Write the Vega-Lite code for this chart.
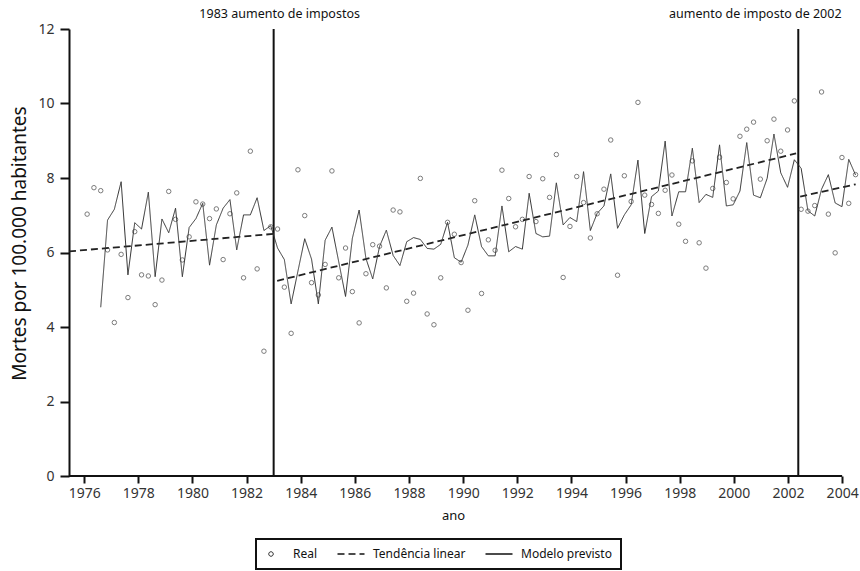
{
  "$schema": "https://vega.github.io/schema/vega-lite/v6.json",
  "width": 791,
  "height": 447,
  "autosize": {"type": "none"},
  "padding": {"left": 69, "top": 29, "right": 0, "bottom": 95},
  "background": "white",
  "config": {"font": "Noto Sans", "view": {"stroke": null}, "axis": {"grid": false}},
  "datasets": {
    "real": [
      {"t":1976.110,"v":7.03},{"t":1976.361,"v":7.74},{"t":1976.612,"v":7.66},{"t":1976.864,"v":6.07},
      {"t":1977.115,"v":4.12},{"t":1977.366,"v":5.95},{"t":1977.617,"v":4.79},{"t":1977.868,"v":6.56},
      {"t":1978.120,"v":5.40},{"t":1978.371,"v":5.37},{"t":1978.622,"v":4.60},{"t":1978.873,"v":5.26},
      {"t":1979.124,"v":7.64},{"t":1979.376,"v":6.89},{"t":1979.627,"v":5.80},{"t":1979.878,"v":6.42},
      {"t":1980.129,"v":7.36},{"t":1980.380,"v":7.30},{"t":1980.632,"v":6.91},{"t":1980.883,"v":7.17},
      {"t":1981.134,"v":5.81},{"t":1981.385,"v":7.04},{"t":1981.636,"v":7.60},{"t":1981.888,"v":5.32},
      {"t":1982.139,"v":8.72},{"t":1982.390,"v":5.56},{"t":1982.641,"v":3.35},{"t":1982.892,"v":6.69},
      {"t":1983.144,"v":6.63},{"t":1983.395,"v":5.07},{"t":1983.646,"v":3.83},{"t":1983.897,"v":8.22},
      {"t":1984.148,"v":6.99},{"t":1984.400,"v":5.19},{"t":1984.651,"v":4.86},{"t":1984.902,"v":5.68},
      {"t":1985.153,"v":8.19},{"t":1985.404,"v":5.32},{"t":1985.656,"v":6.12},{"t":1985.907,"v":4.95},
      {"t":1986.158,"v":4.11},{"t":1986.409,"v":5.43},{"t":1986.660,"v":6.21},{"t":1986.912,"v":6.17},
      {"t":1987.163,"v":5.05},{"t":1987.414,"v":7.14},{"t":1987.665,"v":7.09},{"t":1987.916,"v":4.69},
      {"t":1988.168,"v":4.91},{"t":1988.419,"v":7.99},{"t":1988.670,"v":4.35},{"t":1988.921,"v":4.06},
      {"t":1989.172,"v":5.32},{"t":1989.424,"v":6.81},{"t":1989.675,"v":6.49},{"t":1989.926,"v":5.73},
      {"t":1990.177,"v":4.45},{"t":1990.428,"v":7.39},{"t":1990.680,"v":4.90},{"t":1990.931,"v":6.34},
      {"t":1991.182,"v":6.06},{"t":1991.433,"v":8.21},{"t":1991.684,"v":7.45},{"t":1991.936,"v":6.69},
      {"t":1992.187,"v":6.89},{"t":1992.438,"v":8.04},{"t":1992.689,"v":6.83},{"t":1992.940,"v":7.98},
      {"t":1993.192,"v":7.48},{"t":1993.443,"v":8.63},{"t":1993.694,"v":5.33},{"t":1993.945,"v":6.70},
      {"t":1994.196,"v":8.04},{"t":1994.448,"v":7.34},{"t":1994.699,"v":6.39},{"t":1994.950,"v":7.04},
      {"t":1995.201,"v":7.70},{"t":1995.452,"v":9.02},{"t":1995.704,"v":5.39},{"t":1995.955,"v":8.06},
      {"t":1996.206,"v":7.37},{"t":1996.457,"v":10.03},{"t":1996.708,"v":7.54},{"t":1996.960,"v":7.29},
      {"t":1997.211,"v":7.05},{"t":1997.462,"v":7.67},{"t":1997.713,"v":8.08},{"t":1997.964,"v":6.76},
      {"t":1998.216,"v":6.30},{"t":1998.467,"v":8.46},{"t":1998.718,"v":6.26},{"t":1998.969,"v":5.58},
      {"t":1999.220,"v":7.72},{"t":1999.472,"v":8.56},{"t":1999.723,"v":7.88},{"t":1999.974,"v":7.44},
      {"t":2000.225,"v":9.12},{"t":2000.476,"v":9.31},{"t":2000.728,"v":9.50},{"t":2000.979,"v":7.97},
      {"t":2001.230,"v":9.00},{"t":2001.481,"v":9.58},{"t":2001.732,"v":8.72},{"t":2001.984,"v":9.29},
      {"t":2002.235,"v":10.07},{"t":2002.486,"v":7.16},{"t":2002.737,"v":7.11},{"t":2002.988,"v":7.26},
      {"t":2003.240,"v":10.31},{"t":2003.491,"v":7.03},{"t":2003.742,"v":5.99},{"t":2003.993,"v":8.55},
      {"t":2004.244,"v":7.32},{"t":2004.496,"v":8.09}
    ],
    "model": [
      {"t":1976.612,"v":4.53},{"t":1976.864,"v":6.87},
      {"t":1977.115,"v":7.16},{"t":1977.366,"v":7.90},{"t":1977.617,"v":5.40},{"t":1977.868,"v":6.80},
      {"t":1978.120,"v":6.63},{"t":1978.371,"v":7.62},{"t":1978.622,"v":5.35},{"t":1978.873,"v":6.90},
      {"t":1979.124,"v":6.53},{"t":1979.376,"v":7.19},{"t":1979.627,"v":5.35},{"t":1979.878,"v":6.67},
      {"t":1980.129,"v":6.91},{"t":1980.380,"v":7.32},{"t":1980.632,"v":5.66},{"t":1980.883,"v":6.74},
      {"t":1981.134,"v":7.19},{"t":1981.385,"v":7.42},{"t":1981.636,"v":6.07},{"t":1981.888,"v":7.01},
      {"t":1982.139,"v":7.01},{"t":1982.390,"v":7.47},{"t":1982.641,"v":6.59},{"t":1982.892,"v":6.72},
      {"t":1983.144,"v":6.12},{"t":1983.395,"v":5.81},{"t":1983.646,"v":4.62},{"t":1983.897,"v":5.50},
      {"t":1984.148,"v":6.37},{"t":1984.400,"v":5.82},{"t":1984.651,"v":4.62},{"t":1984.902,"v":6.33},
      {"t":1985.153,"v":6.68},{"t":1985.404,"v":5.75},{"t":1985.656,"v":4.82},{"t":1985.907,"v":6.38},
      {"t":1986.158,"v":7.14},{"t":1986.409,"v":5.84},{"t":1986.660,"v":5.29},{"t":1986.912,"v":6.16},
      {"t":1987.163,"v":6.60},{"t":1987.414,"v":5.92},{"t":1987.665,"v":5.65},{"t":1987.916,"v":6.29},
      {"t":1988.168,"v":6.40},{"t":1988.419,"v":6.35},{"t":1988.670,"v":6.11},{"t":1988.921,"v":6.09},
      {"t":1989.172,"v":6.22},{"t":1989.424,"v":6.81},{"t":1989.675,"v":5.86},{"t":1989.926,"v":5.74},
      {"t":1990.177,"v":6.20},{"t":1990.428,"v":7.01},{"t":1990.680,"v":6.16},{"t":1990.931,"v":5.91},
      {"t":1991.182,"v":5.91},{"t":1991.433,"v":7.25},{"t":1991.684,"v":6.02},{"t":1991.936,"v":6.16},
      {"t":1992.187,"v":6.09},{"t":1992.438,"v":7.59},{"t":1992.689,"v":6.51},{"t":1992.940,"v":6.42},
      {"t":1993.192,"v":6.44},{"t":1993.443,"v":7.87},{"t":1993.694,"v":6.74},{"t":1993.945,"v":6.94},
      {"t":1994.196,"v":6.83},{"t":1994.448,"v":8.17},{"t":1994.699,"v":6.59},{"t":1994.950,"v":7.05},
      {"t":1995.201,"v":7.25},{"t":1995.452,"v":8.11},{"t":1995.704,"v":6.65},{"t":1995.955,"v":7.01},
      {"t":1996.206,"v":7.28},{"t":1996.457,"v":8.48},{"t":1996.708,"v":6.51},{"t":1996.960,"v":7.50},
      {"t":1997.211,"v":7.65},{"t":1997.462,"v":8.99},{"t":1997.713,"v":6.98},{"t":1997.964,"v":7.63},
      {"t":1998.216,"v":7.63},{"t":1998.467,"v":8.80},{"t":1998.718,"v":7.34},{"t":1998.969,"v":7.56},
      {"t":1999.220,"v":7.48},{"t":1999.472,"v":8.89},{"t":1999.723,"v":7.25},{"t":1999.974,"v":7.28},
      {"t":2000.225,"v":7.65},{"t":2000.476,"v":8.95},{"t":2000.728,"v":7.54},{"t":2000.979,"v":7.47},
      {"t":2001.230,"v":7.99},{"t":2001.481,"v":9.18},{"t":2001.732,"v":8.14},{"t":2001.984,"v":7.75},
      {"t":2002.235,"v":8.49},{"t":2002.486,"v":8.26},{"t":2002.737,"v":7.12},{"t":2002.988,"v":6.98},
      {"t":2003.240,"v":7.70},{"t":2003.491,"v":8.09},{"t":2003.742,"v":7.33},{"t":2003.993,"v":7.23},
      {"t":2004.244,"v":8.50},{"t":2004.496,"v":8.08}
    ],
    "trend": [
      {"t":1975.44,"v":6.03,"seg":1},{"t":1983.0,"v":6.50,"seg":1},
      {"t":1983.13,"v":5.24,"seg":2},{"t":2002.30,"v":8.66,"seg":2},
      {"t":2002.45,"v":7.50,"seg":3},{"t":2004.50,"v":7.83,"seg":3}
    ],
    "events": [
      {"t":1983.0,"label":"1983 aumento de impostos"},
      {"t":2002.38,"label":"aumento de imposto de 2002"}
    ],
    "xline": [{"a":1975.44,"b":2004.0}]
  },
  "layer": [
    {
      "data": {"name": "xline"},
      "mark": {"type": "rule", "strokeWidth": 2, "color": "#111"},
      "encoding": {
        "x": {"field": "a", "type": "quantitative", "scale": {"domain": [1975.44, 2004.66], "nice": false, "zero": false},
          "axis": {"values": [1976,1977,1978,1979,1980,1981,1982,1983,1984,1985,1986,1987,1988,1989,1990,1991,1992,1993,1994,1995,1996,1997,1998,1999,2000,2001,2002,2003,2004],
            "format": "d", "labelExpr": "datum.value % 2 === 0 ? datum.label : ''", "labelOverlap": false, "labelFlush": false,
            "domain": false, "tickSize": 7, "tickWidth": 2, "tickColor": "#111", "labelFontSize": 14, "labelColor": "#333", "labelPadding": 3,
            "title": "ano", "titleFontSize": 13, "titleFontWeight": "normal", "titleColor": "#111", "titleX": 384, "titleY": 33}},
        "x2": {"field": "b"},
        "y": {"datum": 0, "type": "quantitative", "scale": {"domain": [0, 12], "nice": false},
          "axis": {"values": [0,2,4,6,8,10,12], "title": "Mortes por 100.000 habitantes", "titleFontSize": 19, "titleFontWeight": "normal", "titleColor": "#111",
            "titleY": 214, "titlePadding": 8, "labelFontSize": 14, "labelColor": "#333", "labelPadding": 6, "tickSize": 9, "tickWidth": 2, "tickColor": "#111",
            "domainColor": "#111", "domainWidth": 2}}
      }
    },
    {
      "data": {"name": "events"},
      "mark": {"type": "rule", "strokeWidth": 2, "color": "#111"},
      "encoding": {
        "x": {"field": "t", "type": "quantitative"},
        "y": {"datum": 0, "type": "quantitative"},
        "y2": {"datum": 12}
      }
    },
    {
      "data": {"name": "events"},
      "transform": [{"filter": "datum.t < 1990"}],
      "mark": {"type": "text", "fontSize": 12.5, "dx": 6, "dy": -15.5, "baseline": "middle", "color": "#111"},
      "encoding": {"x": {"field": "t", "type": "quantitative"}, "y": {"datum": 12, "type": "quantitative"}, "text": {"field": "label"}}
    },
    {
      "data": {"name": "events"},
      "transform": [{"filter": "datum.t > 1990"}],
      "mark": {"type": "text", "fontSize": 12.5, "dx": -43, "dy": -15.5, "baseline": "middle", "color": "#111"},
      "encoding": {"x": {"field": "t", "type": "quantitative"}, "y": {"datum": 12, "type": "quantitative"}, "text": {"field": "label"}}
    },
    {
      "data": {"name": "real"},
      "mark": {"type": "point", "shape": "circle", "filled": false, "size": 20, "stroke": "#444", "strokeWidth": 1},
      "encoding": {"x": {"field": "t", "type": "quantitative"}, "y": {"field": "v", "type": "quantitative"}}
    },
    {
      "data": {"name": "trend"},
      "mark": {"type": "line", "strokeWidth": 1.8, "color": "#222"},
      "encoding": {
        "x": {"field": "t", "type": "quantitative"},
        "y": {"field": "v", "type": "quantitative"},
        "detail": {"field": "seg", "type": "nominal"},
        "strokeDash": {"datum": "Tendência linear", "type": "nominal",
          "scale": {"domain": ["Real", "Tendência linear", "Modelo previsto"], "range": [[1, 0], [7, 4], [1, 0]]},
          "legend": {"title": null, "orient": "none", "legendX": 187, "legendY": 510, "direction": "horizontal",
            "strokeColor": "#111", "padding": 9, "labelFontSize": 12, "labelColor": "#111", "labelOffset": 16,
            "symbolSize": 729, "symbolType": "stroke", "symbolStrokeColor": "#111", "symbolStrokeWidth": 1.5, "columnPadding": 16,
            "encode": {
              "legend": {"update": {"strokeWidth": {"value": 2}}},
              "symbols": {"update": {
                "shape": {"signal": "datum.value === 'Real' ? 'circle' : 'stroke'"},
                "size": {"signal": "datum.value === 'Real' ? 20 : 729"},
                "strokeWidth": {"signal": "datum.value === 'Real' ? 1 : 1.5"}
              }}
            }}}
      }
    },
    {
      "data": {"name": "model"},
      "mark": {"type": "line", "strokeWidth": 1, "color": "#333"},
      "encoding": {
        "x": {"field": "t", "type": "quantitative"},
        "y": {"field": "v", "type": "quantitative"},
        "strokeDash": {"datum": "Modelo previsto", "type": "nominal"}
      }
    }
  ]
}
